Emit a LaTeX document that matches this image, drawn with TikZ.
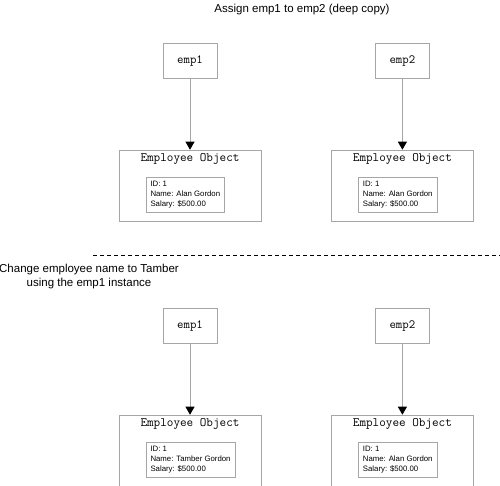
\documentclass[tikz,border=0pt]{standalone}
\usepackage{fontspec}
\setmainfont{Liberation Sans}
\usetikzlibrary{arrows.meta, positioning}

\begin{document}
\begin{tikzpicture}[x=1pt, y=-1pt, node distance=71pt and 158pt,
      ref/.style={draw=black!35, minimum width=54pt, minimum height=35pt, inner sep=0pt, font=\fontsize{12.5}{14}\selectfont\ttfamily},
      obj/.style={draw=black!35, minimum width=142pt, minimum height=71pt, inner sep=0pt},
      objname/.style={inner sep=2pt, font=\fontsize{12.8}{14}\selectfont\ttfamily},
      fields/.style={draw=black!35, align=left, inner xsep=4.5pt, inner ysep=4.3pt, font=\fontsize{7.8}{10}\selectfont},
      caption/.style={align=center, font=\fontsize{11.5}{14}\selectfont},
      link/.style={draw=black!35, line width=0.8pt, -{Triangle[color=black, width=9pt, length=8pt]}}]
    \useasboundingbox (0,0) rectangle (500,485);
    \node[caption] (head) at (302,10) {Assign emp1 to emp2 (deep copy)};
    % before the change
    \node[ref] (r1) at (190,61) {emp1};
    \node[ref, right=of r1] (r2) {emp2};
    \node[obj, below=of r1] (o1) {};
    \node[obj, below=of r2] (o2) {};
    \node[objname, below=2pt of o1.north] {Employee Object};
    \node[objname, below=2pt of o2.north] {Employee Object};
    \node[fields, below right=27pt and 27pt of o1.north west] (f1) {ID: 1\\Name: Alan Gordon\\Salary: \$500.00};
    \node[fields, below right=27pt and 27pt of o2.north west] (f2) {ID: 1\\Name: Alan Gordon\\Salary: \$500.00};
    \draw[link] (r1) -- (o1); \draw[link] (r2) -- (o2);
    % separator
    \coordinate (sl) at (93,255); \coordinate (sr) at (500,255);
    \draw[dash pattern=on 4pt off 3pt, line width=0.6pt] (sl) -- (sr);
    \node[caption] (step) at (89,277) {Change employee name to Tamber\\using the emp1 instance};
    % after the change
    \node[ref] (r3) at (190,326) {emp1};
    \node[ref, right=of r3] (r4) {emp2};
    \node[obj, below=of r3] (o3) {};
    \node[obj, below=of r4] (o4) {};
    \node[objname, below=2pt of o3.north] {Employee Object};
    \node[objname, below=2pt of o4.north] {Employee Object};
    \node[fields, below right=27pt and 27pt of o3.north west] (f3) {ID: 1\\Name: Tamber Gordon\\Salary: \$500.00};
    \node[fields, below right=27pt and 27pt of o4.north west] (f4) {ID: 1\\Name: Alan Gordon\\Salary: \$500.00};
    \draw[link] (r3) -- (o3); \draw[link] (r4) -- (o4);
  \end{tikzpicture}
\end{document}
